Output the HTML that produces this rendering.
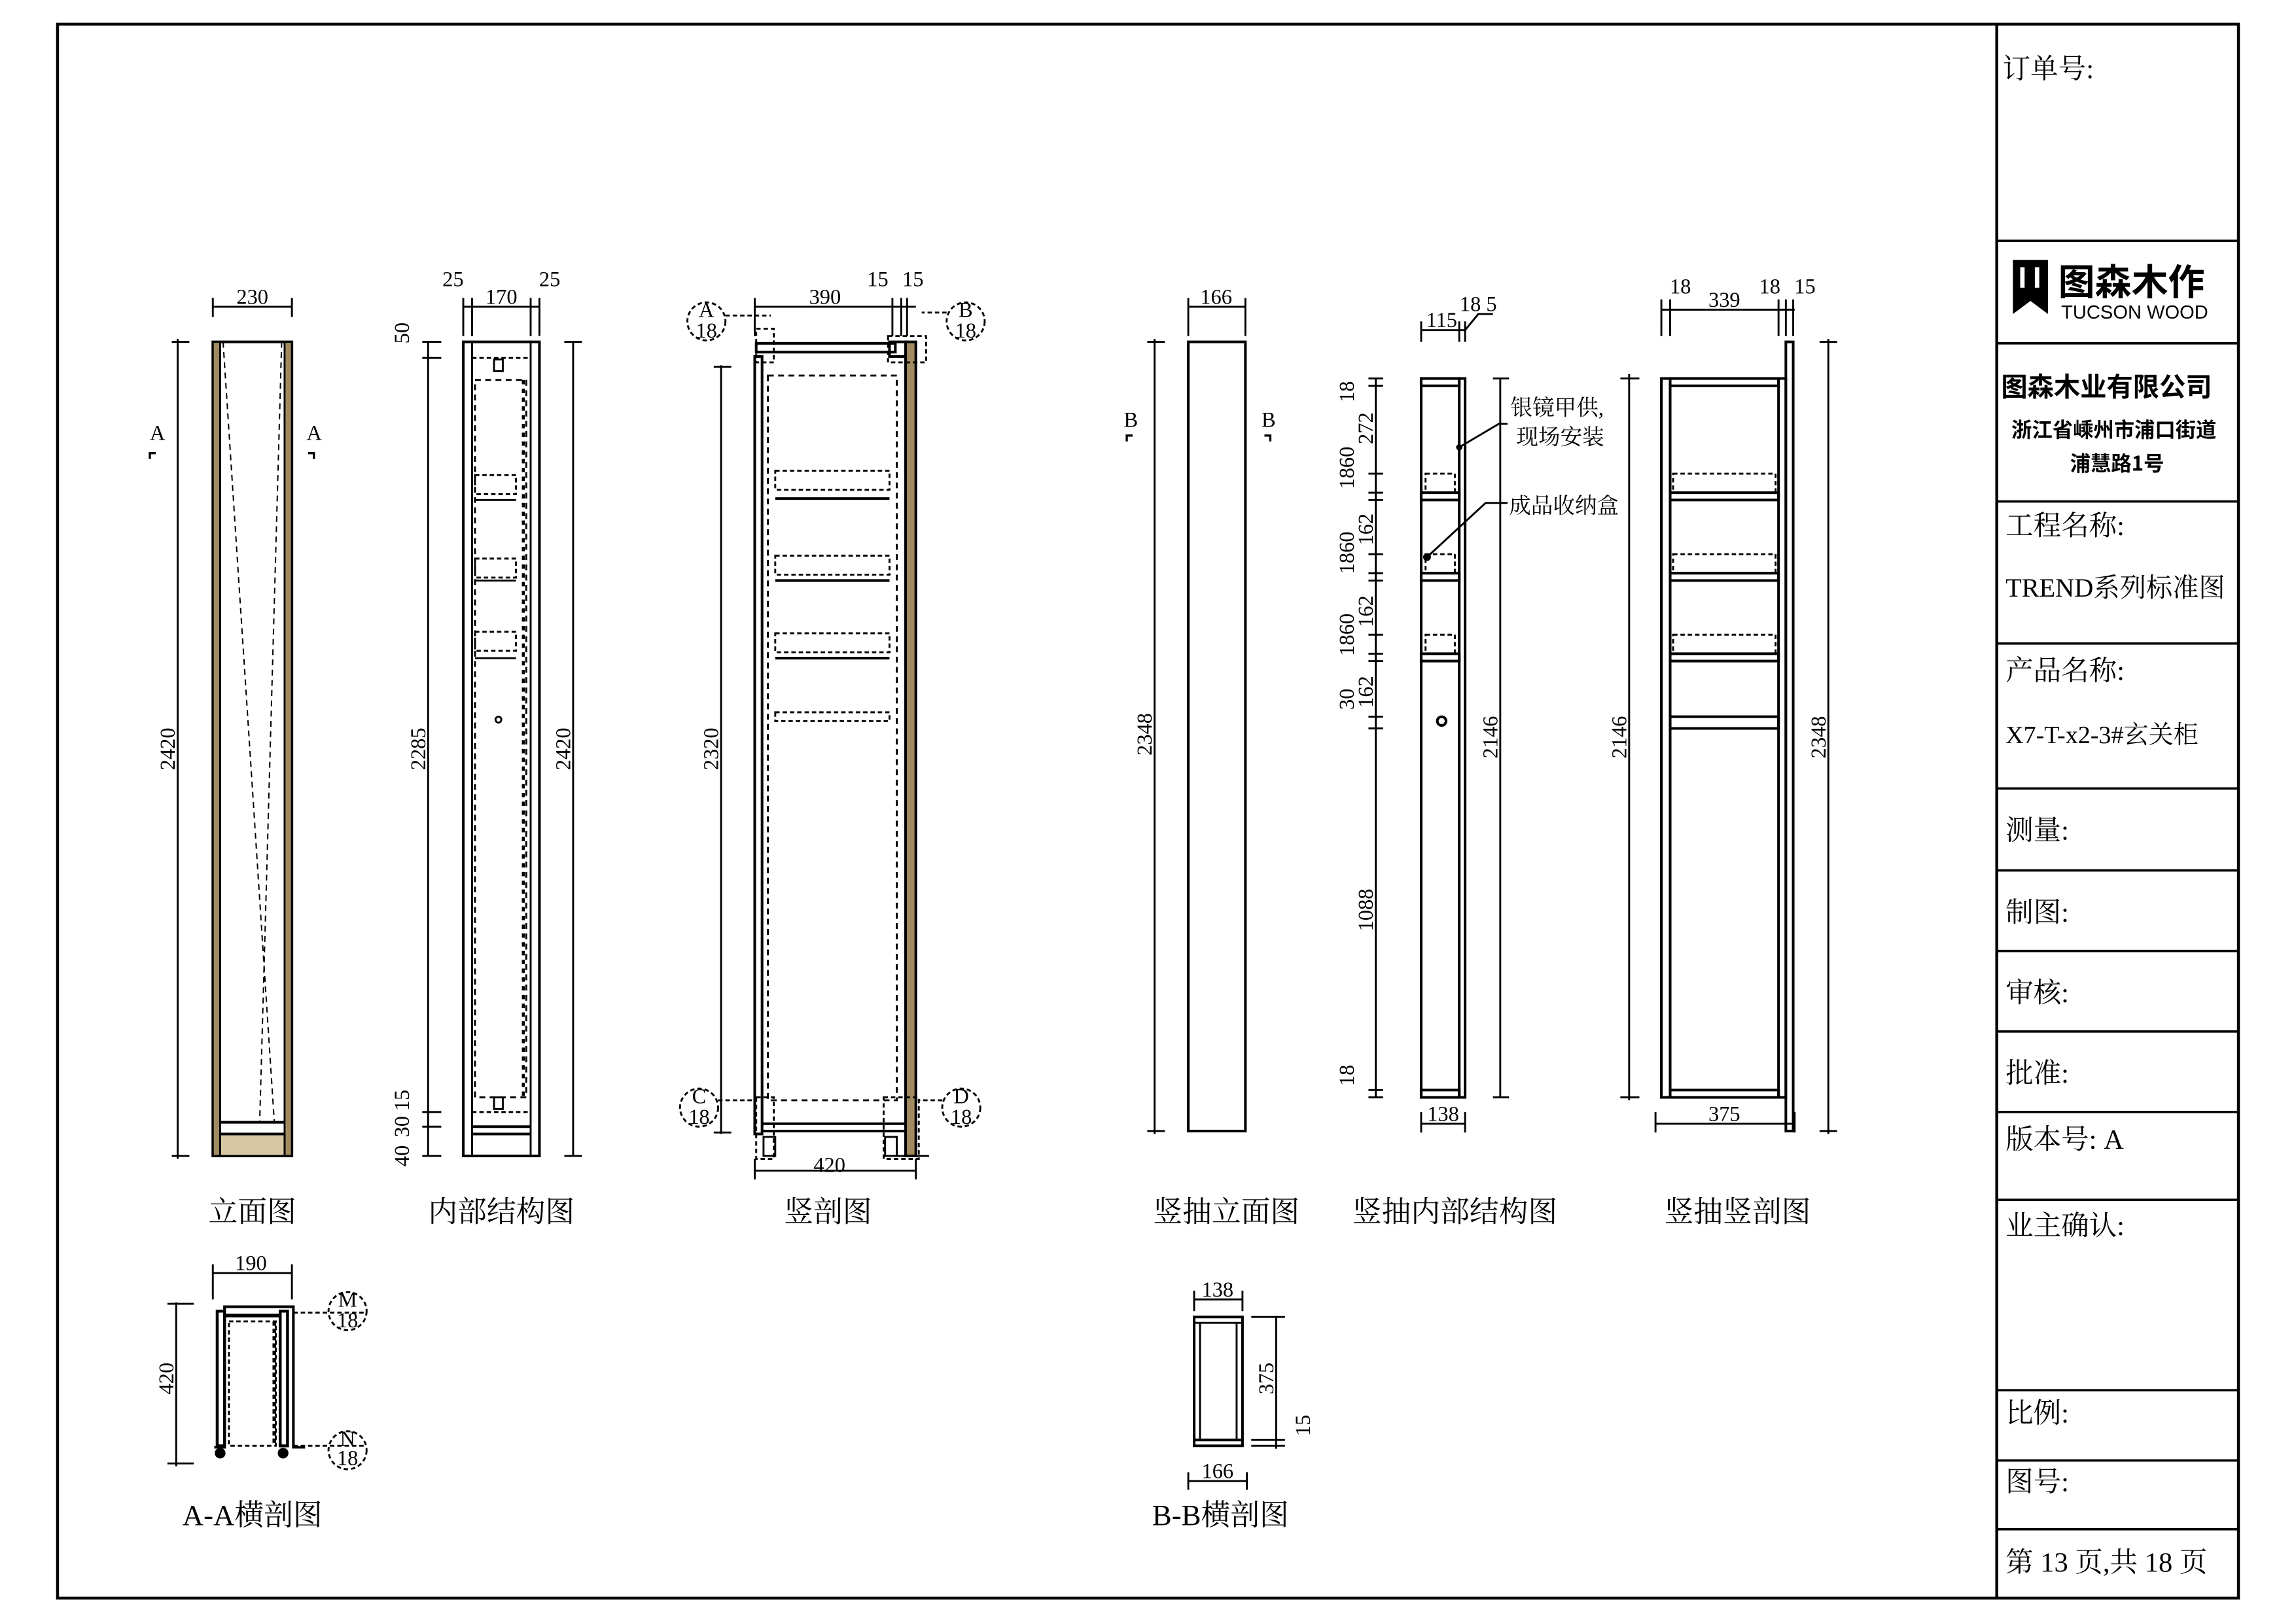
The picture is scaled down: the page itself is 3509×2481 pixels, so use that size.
<!DOCTYPE html>
<html><head><meta charset="utf-8"><style>
html,body{margin:0;padding:0;background:#fff}
svg{display:block}
text{font-family:"Liberation Serif","Noto Serif CJK SC","Noto Sans CJK SC",serif;fill:#000}
.d{font-size:14.5px}
.cn{font-family:"Liberation Serif","Noto Serif CJK SC",serif;font-size:20px}
.tb{font-family:"Liberation Serif","Noto Serif CJK SC",serif;font-size:19px}
</style></head><body>
<svg width="3509" height="2481" viewBox="0.7 0.5 1567.6 1108.5" preserveAspectRatio="none" xmlns="http://www.w3.org/2000/svg">
<g fill="none" stroke="#000" stroke-width="1.3">
<rect x="40" y="17" width="1489" height="1075" stroke-width="2"/>
<line x1="1364" y1="17" x2="1364" y2="1092" stroke-width="2"/>
<g stroke-width="1.6">
<line x1="1364" y1="165" x2="1529" y2="165"/><line x1="1364" y1="235" x2="1529" y2="235"/>
<line x1="1364" y1="343" x2="1529" y2="343"/><line x1="1364" y1="440" x2="1529" y2="440"/>
<line x1="1364" y1="539" x2="1529" y2="539"/><line x1="1364" y1="595" x2="1529" y2="595"/>
<line x1="1364" y1="650" x2="1529" y2="650"/><line x1="1364" y1="705" x2="1529" y2="705"/>
<line x1="1364" y1="760" x2="1529" y2="760"/><line x1="1364" y1="820" x2="1529" y2="820"/>
<line x1="1364" y1="950" x2="1529" y2="950"/><line x1="1364" y1="998" x2="1529" y2="998"/>
<line x1="1364" y1="1045" x2="1529" y2="1045"/>
</g>

<rect x="146" y="234" width="54" height="556" stroke-width="1.8"/>
<rect x="146" y="234" width="5" height="556" fill="#a08a60"/>
<rect x="195" y="234" width="5" height="556" fill="#a08a60"/>
<rect x="151" y="775" width="44" height="15" fill="#d8c7a4"/>
<line x1="151" y1="767" x2="195" y2="767" stroke-width="1.8"/><line x1="151" y1="775" x2="195" y2="775" stroke-width="1.8"/>
<line x1="151" y1="234" x2="195" y2="234" stroke-dasharray="4 3"/>
<path d="M153 234 L188 767 M193 234 L178 767" stroke-dasharray="4 3" stroke-width="0.9"/>
<line x1="146" y1="210" x2="200" y2="210"/><line x1="146" y1="204" x2="146" y2="217"/><line x1="200" y1="204" x2="200" y2="217"/>
<line x1="122" y1="232" x2="122" y2="792"/><line x1="118" y1="234" x2="130" y2="234"/><line x1="118" y1="790" x2="130" y2="790"/>
<path d="M103 314 v-4 h4 M215 314 v-4 h-4" stroke-width="1.5"/>

<rect x="317" y="234" width="52" height="556" stroke-width="1.8"/>
<line x1="323" y1="234" x2="323" y2="790"/><line x1="363" y1="234" x2="363" y2="790"/>
<line x1="323" y1="245" x2="363" y2="245" stroke-dasharray="3 2"/>
<rect x="325" y="260" width="35" height="490" stroke-dasharray="4 3"/>
<line x1="358" y1="260" x2="358" y2="750" stroke-dasharray="3 3" stroke-width="2"/>
<g stroke-dasharray="3 2"><rect x="325" y="325" width="28" height="13"/><rect x="325" y="382" width="28" height="13"/><rect x="325" y="432" width="28" height="13"/></g>
<line x1="325" y1="342" x2="353" y2="342"/><line x1="325" y1="397" x2="353" y2="397"/><line x1="325" y1="450" x2="353" y2="450"/>
<rect x="338" y="246" width="6" height="8"/><rect x="338" y="750" width="6" height="8"/>
<line x1="323" y1="760" x2="363" y2="760" stroke-dasharray="3 2"/>
<line x1="323" y1="770" x2="363" y2="770" stroke-width="1.8"/><line x1="323" y1="775" x2="363" y2="775" stroke-width="1.8"/>
<circle cx="341" cy="492" r="2"/>
<line x1="317" y1="210" x2="369" y2="210"/><line x1="317" y1="204" x2="317" y2="230"/><line x1="323" y1="204" x2="323" y2="230"/><line x1="363" y1="204" x2="363" y2="230"/><line x1="369" y1="204" x2="369" y2="230"/>
<line x1="293" y1="234" x2="293" y2="790"/><line x1="289" y1="234" x2="302" y2="234"/><line x1="289" y1="245" x2="302" y2="245"/><line x1="289" y1="760" x2="302" y2="760"/><line x1="289" y1="770" x2="302" y2="770"/><line x1="289" y1="790" x2="302" y2="790"/>
<line x1="392" y1="234" x2="392" y2="790"/><line x1="386" y1="234" x2="398" y2="234"/><line x1="386" y1="790" x2="398" y2="790"/>

<rect x="516" y="244" width="5" height="531" stroke-width="1.8"/>
<rect x="619" y="234" width="7" height="556" fill="#a08a60" stroke-width="1.8"/>
<rect x="517" y="235" width="95" height="6" stroke-width="1.8"/>
<rect x="608" y="234" width="11" height="10" stroke-width="1.8"/>
<rect x="525" y="257" width="88" height="495" stroke-dasharray="4 3"/>
<g stroke-dasharray="3 2"><rect x="530" y="322" width="78" height="13"/><rect x="530" y="380" width="78" height="13"/><rect x="530" y="433" width="78" height="13"/><rect x="530" y="487" width="78" height="6"/></g>
<line x1="530" y1="341" x2="608" y2="341" stroke-width="1.8"/><line x1="530" y1="397" x2="608" y2="397" stroke-width="1.8"/><line x1="530" y1="450" x2="608" y2="450" stroke-width="1.8"/>
<line x1="521" y1="768" x2="619" y2="768" stroke-width="1.8"/><line x1="521" y1="773" x2="619" y2="773" stroke-width="1.8"/>
<rect x="522" y="777" width="8" height="13"/><rect x="605" y="777" width="8" height="13"/>
<line x1="612" y1="790" x2="635" y2="790"/>
<g stroke-dasharray="3 2"><rect x="517" y="225" width="12" height="23"/><rect x="607" y="230" width="26" height="18"/><rect x="517" y="750" width="12" height="42"/><rect x="604" y="750" width="24" height="42"/>
<circle cx="483" cy="220" r="13"/><circle cx="660" cy="220" r="13"/><circle cx="478" cy="757" r="13"/><circle cx="657" cy="757" r="13"/>
<path d="M496 216 H527 M647 214 H630 M491 752 H517 M644 752 H628"/></g>
<line x1="516" y1="210" x2="626" y2="210"/><line x1="516" y1="204" x2="516" y2="230"/><line x1="610" y1="204" x2="610" y2="230"/><line x1="616" y1="204" x2="616" y2="230"/><line x1="620" y1="204" x2="620" y2="230"/>
<line x1="493" y1="250" x2="493" y2="775"/><line x1="488" y1="251" x2="500" y2="251"/><line x1="488" y1="774" x2="500" y2="774"/>
<line x1="516" y1="800" x2="626" y2="800"/><line x1="516" y1="792" x2="516" y2="806"/><line x1="626" y1="792" x2="626" y2="806"/>

<rect x="812" y="234" width="39" height="539" stroke-width="1.8"/>
<line x1="812" y1="210" x2="851" y2="210"/><line x1="812" y1="204" x2="812" y2="230"/><line x1="851" y1="204" x2="851" y2="230"/>
<line x1="789" y1="232" x2="789" y2="775"/><line x1="784" y1="234" x2="796" y2="234"/><line x1="784" y1="773" x2="796" y2="773"/>
<path d="M770 302 v-4 h4 M868 302 v-4 h-4" stroke-width="1.5"/>

<rect x="971" y="259" width="30" height="491" stroke-width="1.8"/>
<line x1="997" y1="259" x2="997" y2="750" stroke-width="1.8"/>
<g stroke-width="1.8"><rect x="971" y="259" width="26" height="5"/><rect x="971" y="337" width="26" height="5"/><rect x="971" y="392" width="26" height="5"/><rect x="971" y="447" width="26" height="5"/><rect x="971" y="745" width="26" height="5"/></g>
<g stroke-dasharray="3 2"><rect x="974" y="324" width="20" height="13"/><rect x="974" y="379" width="20" height="13"/><rect x="974" y="434" width="20" height="13"/></g>
<circle cx="985" cy="493" r="3" stroke-width="1.8"/>
<line x1="971" y1="226" x2="1001" y2="226"/><line x1="971" y1="220" x2="971" y2="234"/><line x1="997" y1="220" x2="997" y2="234"/><line x1="1001" y1="220" x2="1001" y2="234"/>
<path d="M1001 226 L1010 215 H1020"/>
<line x1="940" y1="259" x2="940" y2="750"/>
<g><line x1="935" y1="259" x2="945" y2="259"/><line x1="935" y1="264" x2="945" y2="264"/><line x1="935" y1="324" x2="945" y2="324"/><line x1="935" y1="337" x2="945" y2="337"/><line x1="935" y1="342" x2="945" y2="342"/><line x1="935" y1="379" x2="945" y2="379"/><line x1="935" y1="392" x2="945" y2="392"/><line x1="935" y1="397" x2="945" y2="397"/><line x1="935" y1="434" x2="945" y2="434"/><line x1="935" y1="447" x2="945" y2="447"/><line x1="935" y1="452" x2="945" y2="452"/><line x1="935" y1="490" x2="945" y2="490"/><line x1="935" y1="498" x2="945" y2="498"/><line x1="935" y1="745" x2="945" y2="745"/><line x1="935" y1="750" x2="945" y2="750"/></g>
<line x1="1025" y1="259" x2="1025" y2="750"/><line x1="1020" y1="259" x2="1031" y2="259"/><line x1="1020" y1="750" x2="1031" y2="750"/>
<line x1="971" y1="768" x2="1001" y2="768"/><line x1="971" y1="760" x2="971" y2="774"/><line x1="1001" y1="760" x2="1001" y2="774"/>
<path d="M997 306 L1024 290 H1030 M975 381 L1015 344 H1030"/>
<circle cx="997" cy="306" r="1.5" fill="#000"/><circle cx="975" cy="381" r="2" fill="#000"/>

<rect x="1135" y="259" width="85" height="491" stroke-width="1.8"/>
<line x1="1141" y1="259" x2="1141" y2="750" stroke-width="1.8"/><line x1="1215" y1="259" x2="1215" y2="750" stroke-width="1.8"/>
<rect x="1220" y="234" width="5" height="539" stroke-width="1.8"/>
<g stroke-width="1.8"><rect x="1141" y="259" width="74" height="5"/><rect x="1141" y="337" width="74" height="5"/><rect x="1141" y="392" width="74" height="5"/><rect x="1141" y="447" width="74" height="5"/><rect x="1141" y="490" width="74" height="8"/><rect x="1141" y="745" width="74" height="5"/></g>
<g stroke-dasharray="3 2"><rect x="1143" y="324" width="70" height="13"/><rect x="1143" y="379" width="70" height="13"/><rect x="1143" y="434" width="70" height="13"/></g>
<line x1="1135" y1="212" x2="1226" y2="212"/><line x1="1135" y1="205" x2="1135" y2="230"/><line x1="1141" y1="205" x2="1141" y2="230"/><line x1="1215" y1="205" x2="1215" y2="230"/><line x1="1220" y1="205" x2="1220" y2="230"/><line x1="1225" y1="205" x2="1225" y2="230"/>
<line x1="1113" y1="256" x2="1113" y2="752"/><line x1="1107" y1="259" x2="1120" y2="259"/><line x1="1107" y1="750" x2="1120" y2="750"/>
<line x1="1249" y1="232" x2="1249" y2="775"/><line x1="1243" y1="234" x2="1255" y2="234"/><line x1="1243" y1="773" x2="1255" y2="773"/>
<line x1="1131" y1="768" x2="1226" y2="768"/><line x1="1131" y1="760" x2="1131" y2="774"/><line x1="1226" y1="760" x2="1226" y2="774"/>

<path d="M147 989 H154 V893 H201 V989 H209" stroke-width="1.8"/>
<rect x="149" y="896" width="5" height="92" stroke-width="2"/><rect x="192" y="896" width="5" height="92" stroke-width="2"/>
<line x1="154" y1="899" x2="192" y2="899" stroke-width="2.5"/>
<rect x="157" y="903" width="32" height="85" stroke-dasharray="3 2"/>
<line x1="188" y1="903" x2="188" y2="988" stroke-dasharray="3 2" stroke-width="2.5"/>
<circle cx="151" cy="993" r="3" fill="#000"/><circle cx="194" cy="993" r="3" fill="#000"/>
<line x1="146" y1="870" x2="200" y2="870"/><line x1="146" y1="864" x2="146" y2="888"/><line x1="200" y1="864" x2="200" y2="888"/>
<line x1="121" y1="890" x2="121" y2="1002"/><line x1="115" y1="891" x2="133" y2="891"/><line x1="115" y1="1000" x2="133" y2="1000"/>
<g stroke-dasharray="3 2"><circle cx="238" cy="896" r="13"/><circle cx="238" cy="991" r="13"/><path d="M201 897 H251 M201 988 H251"/></g>

<rect x="816" y="900" width="33" height="88" stroke-width="1.8"/>
<line x1="820" y1="904" x2="820" y2="984"/><line x1="845" y1="904" x2="845" y2="984"/>
<line x1="816" y1="904" x2="849" y2="904"/><line x1="816" y1="984" x2="849" y2="984" stroke-width="1.8"/>
<line x1="816" y1="888" x2="849" y2="888"/><line x1="816" y1="882" x2="816" y2="896"/><line x1="849" y1="882" x2="849" y2="896"/>
<line x1="812" y1="1012" x2="852" y2="1012"/><line x1="812" y1="1006" x2="812" y2="1018"/><line x1="852" y1="1006" x2="852" y2="1018"/>
<line x1="872" y1="900" x2="872" y2="990"/><line x1="855" y1="900" x2="878" y2="900"/><line x1="855" y1="984" x2="878" y2="984"/><line x1="855" y1="988" x2="878" y2="988"/>
</g>

<path d="M1375 178 H1399 V215 L1387 206 L1375 215 Z" fill="#000"/>
<rect x="1380" y="183" width="3" height="14" fill="#fff"/><rect x="1390" y="183" width="3" height="14" fill="#fff"/>
<text x="1406" y="202" style="font-family:'Noto Sans CJK SC',sans-serif;font-size:25px;font-weight:bold">图森木作</text>
<text x="1408" y="218" style="font-family:'Liberation Sans',sans-serif;font-size:13px">TUCSON WOOD</text>

<text class="tb" x="1368" y="54">订单号:</text>
<text x="1367" y="271" style="font-family:'Noto Sans CJK SC',sans-serif;font-size:18px;font-weight:bold">图森木业有限公司</text>
<text x="1374" y="299" style="font-family:'Noto Sans CJK SC',sans-serif;font-size:14px;font-weight:bold">浙江省嵊州市浦口街道</text>
<text x="1414" y="322" style="font-family:'Noto Sans CJK SC',sans-serif;font-size:14px;font-weight:bold">浦慧路1号</text>
<text class="tb" x="1370" y="366">工程名称:</text>
<text class="tb" x="1370" y="408" style="font-size:18px">TREND系列标准图</text>
<text class="tb" x="1370" y="465">产品名称:</text>
<text class="tb" x="1370" y="508" style="font-size:17px">X7-T-x2-3#玄关柜</text>
<text class="tb" x="1370" y="574">测量:</text>
<text class="tb" x="1370" y="630">制图:</text>
<text class="tb" x="1370" y="685">审核:</text>
<text class="tb" x="1370" y="740">批准:</text>
<text class="tb" x="1370" y="785">版本号:   A</text>
<text class="tb" x="1370" y="844">业主确认:</text>
<text class="tb" x="1370" y="972">比例:</text>
<text class="tb" x="1370" y="1019">图号:</text>
<text class="tb" x="1370" y="1074">第 13 页,共 18 页</text>

<text class="cn" x="173" y="835" text-anchor="middle">立面图</text>
<text class="cn" x="343" y="835" text-anchor="middle">内部结构图</text>
<text class="cn" x="566" y="835" text-anchor="middle">竖剖图</text>
<text class="cn" x="838" y="835" text-anchor="middle">竖抽立面图</text>
<text class="cn" x="994" y="835" text-anchor="middle">竖抽内部结构图</text>
<text class="cn" x="1187" y="835" text-anchor="middle">竖抽竖剖图</text>
<text class="cn" x="173" y="1042" text-anchor="middle">A-A横剖图</text>
<text class="cn" x="834" y="1042" text-anchor="middle">B-B横剖图</text>
<text x="1032" y="284" style="font-size:15px">银镜甲供,</text>
<text x="1036" y="304" style="font-size:15px">现场安装</text>
<text x="1031" y="351" style="font-size:15px">成品收纳盒</text>

<g class="d">
<text x="173" y="208" text-anchor="middle">230</text>
<text x="103" y="301">A</text><text x="210" y="301">A</text>
<text x="310" y="196" text-anchor="middle">25</text><text x="343" y="208" text-anchor="middle">170</text><text x="376" y="196" text-anchor="middle">25</text>
<text x="564" y="208" text-anchor="middle">390</text><text x="600" y="196" text-anchor="middle">15</text><text x="624" y="196" text-anchor="middle">15</text>
<text x="483" y="217" text-anchor="middle">A</text><text x="483" y="231" text-anchor="middle">18</text>
<text x="660" y="217" text-anchor="middle">B</text><text x="660" y="231" text-anchor="middle">18</text>
<text x="478" y="754" text-anchor="middle">C</text><text x="478" y="768" text-anchor="middle">18</text>
<text x="657" y="754" text-anchor="middle">D</text><text x="657" y="768" text-anchor="middle">18</text>
<text x="567" y="801" text-anchor="middle">420</text>
<text x="831" y="208" text-anchor="middle">166</text>
<text x="768" y="292">B</text><text x="862" y="292">B</text>
<text x="985" y="224" text-anchor="middle">115</text><text x="1010" y="213" text-anchor="middle">18 5</text>
<text x="986" y="766" text-anchor="middle">138</text>
<text x="1148" y="201" text-anchor="middle">18</text><text x="1178" y="210" text-anchor="middle">339</text><text x="1209" y="201" text-anchor="middle">18</text><text x="1233" y="201" text-anchor="middle">15</text>
<text x="1178" y="766" text-anchor="middle">375</text>
<text x="172" y="868" text-anchor="middle">190</text>
<text x="238" y="893" text-anchor="middle">M</text><text x="238" y="907" text-anchor="middle">18</text>
<text x="238" y="988" text-anchor="middle">N</text><text x="238" y="1001" text-anchor="middle">18</text>
<text x="832" y="886" text-anchor="middle">138</text>
<text x="832" y="1010" text-anchor="middle">166</text>
</g>
<g class="d" text-anchor="middle">
<text transform="translate(120,512) rotate(-90)">2420</text>
<text transform="translate(291,512) rotate(-90)">2285</text>
<text transform="translate(390,512) rotate(-90)">2420</text>
<text transform="translate(280,228) rotate(-90)">50</text>
<text transform="translate(280,752) rotate(-90)">15</text>
<text transform="translate(280,770) rotate(-90)">30</text>
<text transform="translate(280,790) rotate(-90)">40</text>
<text transform="translate(491,512) rotate(-90)">2320</text>
<text transform="translate(787,502) rotate(-90)">2348</text>
<text transform="translate(1023,504) rotate(-90)">2146</text>
<text transform="translate(1111,504) rotate(-90)">2146</text>
<text transform="translate(1247,504) rotate(-90)">2348</text>
<text transform="translate(925,268) rotate(-90)">18</text>
<text transform="translate(938,293) rotate(-90)">272</text>
<text transform="translate(925,320) rotate(-90)">1860</text>
<text transform="translate(938,362) rotate(-90)">162</text>
<text transform="translate(925,378) rotate(-90)">1860</text>
<text transform="translate(938,418) rotate(-90)">162</text>
<text transform="translate(925,434) rotate(-90)">1860</text>
<text transform="translate(938,473) rotate(-90)">162</text>
<text transform="translate(925,478) rotate(-90)">30</text>
<text transform="translate(938,622) rotate(-90)">1088</text>
<text transform="translate(925,735) rotate(-90)">18</text>
<text transform="translate(119,942) rotate(-90)">420</text>
<text transform="translate(870,942) rotate(-90)">375</text>
<text transform="translate(895,974) rotate(-90)">15</text>
</g>
</svg>
</body></html>
